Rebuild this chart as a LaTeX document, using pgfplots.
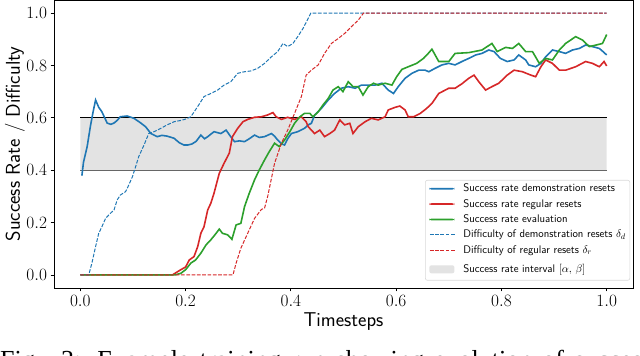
\documentclass[border=0pt]{standalone}
\usepackage{fontspec}
\usepackage{pgfplots}
\pgfplotsset{compat=1.18}
\newfontfamily\capfont{Liberation Serif}
\definecolor{tabblue}{HTML}{1F77B4}
\definecolor{tabred}{HTML}{D62728}
\definecolor{tabgreen}{HTML}{2CA02C}
\definecolor{bandgray}{HTML}{E3E3E3}
\tikzset{
  solidline/.style={line width=1.6pt},
  dashline/.style={line width=1pt, dash pattern=on 3.7pt off 1.6pt},
}
% legend swatches: a filled bar for solid lines, a dashed stroke for dashed ones
\newcommand{\solidswatch}[1]{\tikz[baseline=-3pt]\fill[#1] (0pt,-0.9pt) rectangle (25pt,0.9pt);}
\newcommand{\dashswatch}[1]{\tikz[baseline=-3pt]\draw[#1, dashline] (0pt,0pt) -- (25pt,0pt);}
\begin{document}
\begin{tikzpicture}
\begin{axis}[
  at={(54pt,68pt)}, anchor=south west,
  width=579pt, height=288pt, scale only axis,
  xmin=-0.05, xmax=1.05, ymin=-0.05, ymax=1.05,
  xtick={0,0.2,0.4,0.6,0.8,1}, ytick={0,0.2,0.4,0.6,0.8,1},
  xticklabel style={/pgf/number format/.cd, fixed, fixed zerofill, precision=1},
  yticklabel style={/pgf/number format/.cd, fixed, fixed zerofill, precision=1},
  ticklabel style={font=\fontsize{16}{18}\selectfont},
  tick align=outside, major tick length=3.5pt, tick pos=left,
  axis line style={line width=0.8pt},
  every tick/.style={black, line width=0.8pt},
  xlabel={Timesteps},
  xlabel style={font=\sffamily\fontsize{20}{24}\selectfont, at={(axis description cs:0.5,-0.135)}, anchor=base},
  ylabel={Success Rate / Difficulty},
  ylabel style={font=\sffamily\fontsize{20}{24}\selectfont, at={(axis description cs:-0.0674,0.5)}, anchor=center},
]
% success rate interval
\addplot[draw=none, fill=bandgray] coordinates {(0,0.4) (0,0.6) (1,0.6) (1,0.4) (0,0.4)};
\addplot[black, line width=0.9pt] coordinates {(0,0.6) (1,0.6)};
\addplot[black!60, line width=0.9pt] coordinates {(0,0.4) (1,0.4)};

% success rate demonstration resets
\addplot[tabblue, solidline] coordinates {
(0.003,0.379) (0.006,0.43) (0.013,0.49) (0.019,0.566) (0.024,0.62) (0.029,0.668) (0.035,0.64) (0.041,0.623)
(0.051,0.58) (0.058,0.575) (0.064,0.58) (0.070,0.59) (0.076,0.604) (0.089,0.607) (0.102,0.598) (0.115,0.58)
(0.124,0.566) (0.134,0.54) (0.146,0.528) (0.155,0.533) (0.165,0.53) (0.178,0.522) (0.188,0.505) (0.197,0.496)
(0.204,0.496) (0.212,0.5) (0.220,0.51) (0.229,0.534) (0.236,0.52) (0.242,0.528) (0.254,0.547) (0.267,0.54)
(0.277,0.553) (0.285,0.53) (0.293,0.509) (0.302,0.512) (0.312,0.509) (0.321,0.52) (0.331,0.534) (0.340,0.525)
(0.35,0.528) (0.363,0.54) (0.369,0.53) (0.375,0.515) (0.383,0.50) (0.388,0.496) (0.394,0.52) (0.401,0.54)
(0.413,0.547) (0.426,0.56) (0.433,0.573) (0.439,0.579) (0.445,0.61) (0.458,0.636) (0.471,0.668) (0.483,0.693)
(0.496,0.713) (0.509,0.719) (0.522,0.713) (0.534,0.725) (0.547,0.725) (0.56,0.725) (0.573,0.732) (0.585,0.706)
(0.595,0.693) (0.604,0.719) (0.617,0.751) (0.63,0.77) (0.643,0.782) (0.655,0.782) (0.662,0.776) (0.674,0.789)
(0.687,0.802) (0.7,0.808) (0.712,0.802) (0.725,0.815) (0.738,0.827) (0.751,0.84) (0.763,0.846) (0.776,0.859)
(0.786,0.853) (0.798,0.827) (0.811,0.815) (0.824,0.821) (0.833,0.84) (0.846,0.821) (0.852,0.802) (0.865,0.795)
(0.875,0.808) (0.884,0.833) (0.897,0.859) (0.91,0.853) (0.922,0.846) (0.935,0.859) (0.948,0.865) (0.96,0.878)
(0.973,0.872) (0.986,0.865) (0.993,0.853) (1.0,0.84)
};

% success rate regular resets
\addplot[tabred, solidline] coordinates {
(0,0) (0.175,0) (0.183,0.01) (0.191,0.02) (0.2,0.03) (0.207,0.057) (0.216,0.07) (0.223,0.108) (0.229,0.159)
(0.235,0.184) (0.242,0.248) (0.248,0.274) (0.254,0.312) (0.264,0.388) (0.273,0.426) (0.283,0.465) (0.289,0.528)
(0.299,0.56) (0.309,0.585) (0.318,0.594) (0.331,0.602) (0.344,0.604) (0.356,0.611) (0.366,0.62) (0.372,0.604)
(0.382,0.594) (0.394,0.602) (0.407,0.594) (0.42,0.604) (0.429,0.585) (0.433,0.566) (0.445,0.54) (0.455,0.553)
(0.464,0.528) (0.474,0.54) (0.483,0.553) (0.493,0.592) (0.502,0.573) (0.512,0.579) (0.518,0.54) (0.528,0.566)
(0.541,0.585) (0.553,0.598) (0.566,0.592) (0.579,0.604) (0.585,0.63) (0.598,0.64) (0.607,0.645) (0.617,0.63)
(0.623,0.604) (0.633,0.604) (0.646,0.617) (0.658,0.636) (0.668,0.655) (0.681,0.693) (0.7,0.713) (0.712,0.713)
(0.725,0.73) (0.738,0.751) (0.748,0.763) (0.757,0.738) (0.77,0.706) (0.782,0.719) (0.795,0.732) (0.811,0.763)
(0.824,0.782) (0.84,0.776) (0.856,0.763) (0.865,0.757) (0.875,0.795) (0.884,0.821) (0.897,0.808) (0.91,0.782)
(0.922,0.782) (0.941,0.795) (0.96,0.815) (0.973,0.808) (0.986,0.795) (0.995,0.815) (1.0,0.798)
};

% success rate evaluation
\addplot[tabgreen, solidline] coordinates {
(0,0) (0.18,0) (0.191,0.006) (0.2,0.02) (0.21,0.045) (0.219,0.057) (0.229,0.083) (0.239,0.115) (0.248,0.134)
(0.258,0.159) (0.264,0.175) (0.27,0.159) (0.28,0.153) (0.288,0.136) (0.296,0.191) (0.305,0.197) (0.312,0.261)
(0.321,0.312) (0.331,0.363) (0.34,0.401) (0.35,0.439) (0.359,0.471) (0.369,0.503) (0.378,0.49) (0.388,0.515)
(0.398,0.547) (0.407,0.579) (0.417,0.604) (0.426,0.617) (0.436,0.617) (0.442,0.604) (0.452,0.623) (0.461,0.649)
(0.471,0.674) (0.48,0.706) (0.49,0.719) (0.499,0.7) (0.509,0.738) (0.518,0.719) (0.528,0.719) (0.537,0.687)
(0.547,0.719) (0.557,0.732) (0.566,0.725) (0.579,0.732) (0.592,0.725) (0.601,0.757) (0.611,0.785) (0.623,0.795)
(0.639,0.808) (0.652,0.827) (0.661,0.846) (0.668,0.862) (0.681,0.815) (0.7,0.815) (0.712,0.846) (0.738,0.849)
(0.763,0.859) (0.782,0.884) (0.792,0.853) (0.808,0.869) (0.821,0.865) (0.833,0.884) (0.846,0.853) (0.859,0.853)
(0.872,0.808) (0.884,0.827) (0.897,0.821) (0.91,0.859) (0.922,0.884) (0.941,0.91) (0.954,0.897) (0.967,0.872)
(0.98,0.878) (0.992,0.884) (1.0,0.918)
};

% difficulty of demonstration resets
\addplot[tabblue, dashline] coordinates {
(0,0) (0.016,0) (0.022,0.045) (0.029,0.108) (0.035,0.159) (0.041,0.184) (0.048,0.216) (0.057,0.235) (0.064,0.248)
(0.07,0.286) (0.076,0.305) (0.086,0.318) (0.092,0.343) (0.099,0.375) (0.105,0.413) (0.111,0.452) (0.121,0.496)
(0.13,0.54) (0.14,0.547) (0.153,0.56) (0.165,0.573) (0.178,0.585) (0.191,0.59) (0.2,0.595) (0.21,0.604)
(0.223,0.643) (0.235,0.681) (0.248,0.693) (0.261,0.706) (0.273,0.725) (0.286,0.738) (0.299,0.77) (0.312,0.776)
(0.324,0.779) (0.337,0.789) (0.35,0.808) (0.363,0.833) (0.375,0.853) (0.385,0.884) (0.394,0.872) (0.404,0.884)
(0.413,0.91) (0.423,0.941) (0.433,0.98) (0.438,1.0) (1.0,1.0)
};

% difficulty of regular resets
\addplot[tabred, dashline] coordinates {
(0,0) (0.29,0) (0.296,0.045) (0.305,0.102) (0.318,0.159) (0.331,0.216) (0.344,0.25) (0.35,0.255) (0.356,0.3)
(0.369,0.426) (0.382,0.503) (0.394,0.553) (0.407,0.617) (0.42,0.681) (0.429,0.763) (0.439,0.782) (0.452,0.802)
(0.464,0.846) (0.477,0.884) (0.49,0.903) (0.502,0.922) (0.515,0.948) (0.528,0.973) (0.538,1.0) (1.0,1.0)
};

\node[anchor=north east, draw=black!15, fill=white, rounded corners=2pt, line width=0.6pt,
      inner xsep=4pt, inner ysep=3pt, font=\sffamily\fontsize{11}{12}\selectfont]
  at (rel axis cs:0.995,0.375) {%
  \begin{tabular}{@{}l@{\hspace{8pt}}l@{}}
  \solidswatch{tabblue} & Success rate demonstration resets \\[3.4pt]
  \solidswatch{tabred} & Success rate regular resets \\[3.4pt]
  \solidswatch{tabgreen} & Success rate evaluation \\[3.4pt]
  \dashswatch{tabblue} & Difficulty of demonstration resets $\delta_d$ \\[3.4pt]
  \dashswatch{tabred} & Difficulty of regular resets $\delta_r$ \\[7pt]
  \tikz[baseline=-3pt]\fill[bandgray] (0pt,-4pt) rectangle (25pt,4pt); & Success rate interval $[\alpha,\,\beta]$\rule[-5pt]{0pt}{5pt}
  \end{tabular}};

\node[anchor=base east, inner sep=0pt, font=\fontsize{12}{14}\selectfont] at (axis description cs:0.998,-0.1215) {$\times10^{7}$};
\end{axis}
\node[anchor=base west, inner sep=0pt, font=\capfont\fontsize{26}{30}\selectfont] at (0pt,-13pt)
  {\makebox[652pt][s]{Fig. 3: Example training run showing evolution of success}};
\pgfresetboundingbox
\useasboundingbox (0,0) rectangle (640pt,356pt);
\end{tikzpicture}
\end{document}
